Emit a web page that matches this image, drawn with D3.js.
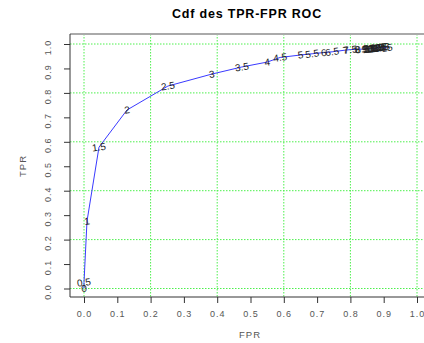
<!DOCTYPE html>
<html>
<head>
<meta charset="utf-8">
<script src="https://cdn.jsdelivr.net/npm/d3@7"></script>
<style>
  body { margin: 0; background: #fff; }
  svg { display: block; font-family: "Liberation Sans", Arial, sans-serif; }
</style>
</head>
<body>
<div id="chart"></div>
<script>
// ROC points, one per threshold
const thresholds = ["0", "0.5", "1", "1.5", "2", "2.5", "3", "3.5", "4", "4.5", "5", "5.5", "6", "6.5", "7",
  "7.5", "8", "8.5", "9", "9.5", "10", "10.5", "11", "11.5", "12", "12.5", "13", "13.5", "14", "14.5", "15"];
const fpr = [0, 0.0, 0.009, 0.045, 0.129, 0.252, 0.384, 0.474, 0.55, 0.589, 0.65, 0.685, 0.72, 0.745, 0.785,
  0.80, 0.82, 0.835, 0.845, 0.855, 0.86, 0.865, 0.87, 0.873, 0.876, 0.879, 0.882, 0.885, 0.887, 0.889, 0.91];
const tpr = [0, 0.025, 0.275, 0.578, 0.73, 0.828, 0.877, 0.906, 0.926, 0.945, 0.955, 0.96, 0.965, 0.968, 0.975,
  0.977, 0.978, 0.979, 0.98, 0.981, 0.982, 0.982, 0.983, 0.983, 0.984, 0.984, 0.984, 0.985, 0.985, 0.985, 0.985];
const ticks = d3.range(0, 11).map(i => i / 10);
const gridTicks = [0, 0.2, 0.4, 0.6, 0.8, 1.0];

const width = 424, height = 343;
const plotLeft = 70, plotTop = 34, plotBottom = 297;

const x = d3.scaleLinear().domain([0, 1]).range([84, 417]);
const y = d3.scaleLinear().domain([0, 1]).range([288.5, 44]);

const svg = d3.select('#chart').append('svg')
  .attr('width', width)
  .attr('height', height);

// grid, green dotted
const grid = svg.append('g')
  .attr('stroke', '#4cf04c')
  .attr('stroke-dasharray', '1.5,1.5')
  .attr('stroke-width', 1);
grid.selectAll('line.v').data(gridTicks).join('line')
  .attr('x1', d => x(d)).attr('x2', d => x(d))
  .attr('y1', plotTop).attr('y2', plotBottom);
grid.selectAll('line.h').data(gridTicks).join('line')
  .attr('x1', plotLeft).attr('x2', width)
  .attr('y1', d => y(d)).attr('y2', d => y(d));

// frame: grey top, dark left and bottom
svg.append('line')
  .attr('x1', plotLeft).attr('x2', width)
  .attr('y1', plotTop).attr('y2', plotTop)
  .attr('stroke', '#aaa').attr('stroke-width', 2);

const xAxis = svg.append('g')
  .attr('transform', `translate(0,${plotBottom})`)
  .call(d3.axisBottom(x).tickValues(ticks).tickFormat(d3.format('.1f')).tickSize(6).tickSizeOuter(0));
xAxis.select('.domain').remove();
svg.append('line')
  .attr('x1', plotLeft).attr('x2', width)
  .attr('y1', plotBottom).attr('y2', plotBottom)
  .attr('stroke', '#333');

const yAxis = svg.append('g')
  .attr('transform', `translate(${plotLeft},0)`)
  .call(d3.axisLeft(y).tickValues(ticks).tickFormat(d3.format('.1f')).tickSize(6).tickSizeOuter(0));
yAxis.select('.domain').remove();
svg.append('line')
  .attr('x1', plotLeft).attr('x2', plotLeft)
  .attr('y1', plotTop).attr('y2', plotBottom)
  .attr('stroke', '#333');

svg.selectAll('.tick line').attr('stroke', '#333');
xAxis.selectAll('text')
  .attr('fill', '#555')
  .attr('font-size', 9)
  .attr('letter-spacing', 1)
  .attr('dy', null)
  .attr('y', 20);
yAxis.selectAll('text')
  .attr('fill', '#555')
  .attr('font-size', 9)
  .attr('letter-spacing', 1)
  .attr('text-anchor', 'middle')
  .attr('dy', null)
  .attr('x', null)
  .attr('transform', 'translate(-19,3) rotate(-90)');

// title and axis labels
svg.append('text')
  .attr('x', 247).attr('y', 18)
  .attr('text-anchor', 'middle')
  .attr('font-size', 12.5)
  .attr('font-weight', 'bold')
  .attr('letter-spacing', 0.8)
  .text('Cdf des TPR-FPR ROC');

svg.append('text')
  .attr('x', 250).attr('y', 338)
  .attr('text-anchor', 'middle')
  .attr('font-size', 9.5)
  .attr('fill', '#555')
  .attr('letter-spacing', 1)
  .text('FPR');

svg.append('text')
  .attr('transform', 'translate(26,166) rotate(-90)')
  .attr('text-anchor', 'middle')
  .attr('font-size', 9.5)
  .attr('fill', '#555')
  .attr('letter-spacing', 1)
  .text('TPR');

// curve
const pts = thresholds.map((t, i) => ({ t, fpr: fpr[i], tpr: tpr[i] }));
const line = d3.line().x(d => x(d.fpr)).y(d => y(d.tpr));
svg.append('path')
  .datum(pts)
  .attr('d', line)
  .attr('fill', 'none')
  .attr('stroke', '#3a3aff')
  .attr('stroke-width', 1);

svg.append('g')
  .attr('font-size', 10)
  .attr('fill', '#222')
  .attr('text-anchor', 'middle')
  .selectAll('text')
  .data(pts)
  .join('text')
  .attr('transform', d => `translate(${x(d.fpr)},${y(d.tpr)}) rotate(-8)`)
  .attr('dy', '0.35em')
  .text(d => d.t);
</script>
</body>
</html>
